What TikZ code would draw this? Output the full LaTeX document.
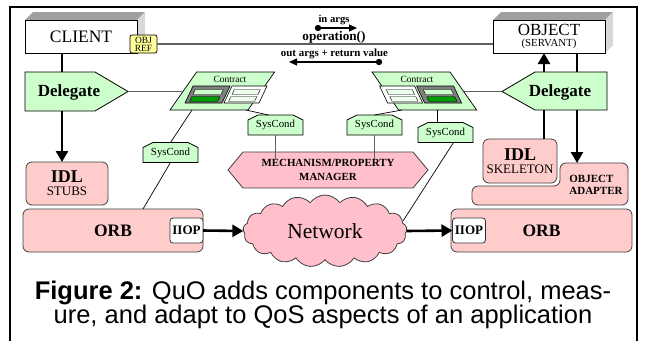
\documentclass[tikz,border=0pt]{standalone}
\usepackage{fontspec}
\setmainfont{Liberation Serif}
\newfontfamily\capfont{Liberation Sans}
\usetikzlibrary{shapes.symbols,arrows.meta,calc}
\definecolor{lgreen}{HTML}{CCFFCC}
\definecolor{vlgreen}{HTML}{EEFFEE}
\definecolor{dgreen}{HTML}{00A000}
\definecolor{lpink}{HTML}{FFCCCC}
\definecolor{mpink}{HTML}{FFC0CB}
\definecolor{lyellow}{HTML}{FFFF99}
\definecolor{topgray}{HTML}{A0A0A0}
\definecolor{sidegray}{HTML}{D8D8D8}
\definecolor{linegray}{HTML}{606060}
\definecolor{framegray}{HTML}{808080}
\newcommand\fs[1]{\fontsize{#1}{#1}\selectfont}
\newcommand\parallelo[6]{\path[#1] ({#2},{#3}) -- ++({(#6)*(#5)},{-(#5)}) -- ++({#4},0) -- ++({-(#6)*(#5)},{#5}) -- cycle;}
\newcommand\contractshape{%
  \parallelo{draw=black,fill=lgreen,line width=0.7pt}{170}{110}{78}{38}{0.7}
  \parallelo{draw=black,fill=framegray,line width=0.6pt}{185}{103}{37}{17}{0.47}
  \parallelo{draw=black,fill=lgreen,line width=0.4pt}{193}{94.5}{28}{5}{0.47}
  \parallelo{draw=black,fill=dgreen,line width=0.4pt}{189.5}{101.5}{28}{5}{0.47}
  \parallelo{draw=black,fill=white,line width=0.6pt}{224}{103}{35}{17}{0.47}
  \parallelo{draw=black,fill=vlgreen,line width=0.4pt}{232}{94.5}{26}{5}{0.47}
  \parallelo{draw=black,fill=vlgreen,line width=0.4pt}{228.5}{101.5}{26}{5}{0.47}}
\newcommand\syscond[3]{%
  \draw[scst] ({#2-27.5},{#3+10}) -- ({#2-27.5},{#3-5}) -- ({#2-17.5},{#3-10}) -- ({#2+17.5},{#3-10}) -- ({#2+27.5},{#3-5}) -- ({#2+27.5},{#3+10}) -- cycle;
  \node[font=\fs{10.8},minimum width=55,minimum height=20] (#1) at (#2,#3) {SysCond};}
\begin{document}
\begin{tikzpicture}[x=1pt,y=-1pt,
  every node/.style={inner sep=0pt,outer sep=0pt},
  thk/.style={line width=2.6pt},
  tipa/.style={-{Triangle[length=11pt,width=12pt]}},
  conn/.style={line width=0.7pt},
  mconn/.style={draw=linegray,line width=1.2pt},
  gline/.style={draw=linegray,line width=1.4pt},
  pinkbox/.style={draw=black!75,fill=lpink,rounded corners=6pt,line width=0.8pt},
  delst/.style={draw=black,fill=lgreen,line width=0.8pt},
  scst/.style={draw=black,fill=lgreen,line width=0.7pt},
  deltext/.style={font=\bfseries\fs{17}},
  iiopst/.style={draw=black!80,fill=white,rounded corners=3pt,minimum width=33,minimum height=25,font=\bfseries\fs{13},line width=0.8pt}
]
\useasboundingbox (0,0) rectangle (645,341);
\fill[white] (0,0) rectangle (645,341);
% frame
\draw[line width=2pt] (10,341) -- (10,7) -- (637,7) -- (637,341);

% CLIENT 3D box
\fill[topgray] (25,20) -- (33,12) -- (145,12) -- (137,20) -- cycle;
\fill[sidegray] (137,20) -- (145,12) -- (145,45) -- (137,53) -- cycle;
\node[draw,fill=white,line width=0.8pt,minimum width=112,minimum height=33,font=\fs{17.5}] (client) at (81,36.5) {CLIENT};

% OBJECT 3D box
\fill[topgray] (493,20) -- (501,12) -- (613,12) -- (605,20) -- cycle;
\fill[sidegray] (605,20) -- (613,12) -- (613,45) -- (605,53) -- cycle;
\node[draw,fill=white,line width=0.8pt,minimum width=112,minimum height=33,align=center] (object) at (549,36.5) {\fs{17}OBJECT\\[-1pt]\fs{10.8}(SERVANT)};

% OBJ REF
\node[draw,fill=lyellow,rounded corners=2pt,minimum width=27,minimum height=18,align=center,font=\fontsize{9.5}{8}\selectfont,line width=0.7pt] (objref) at (143.5,44) {OBJ\\REF};
\draw[gline] (objref.east) -- (object.west |- objref.east);

% operation labels
\node[font=\bfseries\fs{10.6}] (inargs) at (334,20) {in args};
\coordinate (ia1) at (318,28);
\coordinate (ia2) at (357,28);
\fill (ia1) circle (3.2);
\draw[line width=1.2pt,-{Triangle[length=8pt,width=7pt]}] (ia1) -- (ia2);
\node[font=\bfseries\fs{13.2}] (op) at (334,37) {operation()};
\node[font=\bfseries\fs{10.9}] (outargs) at (334.5,53.5) {out args + return value};
\coordinate (oa1) at (379,62);
\coordinate (oa2) at (289,62);
\fill (oa1) circle (3.2);
\draw[line width=1.2pt,-{Triangle[length=8pt,width=7pt]}] (oa1) -- (oa2);

% Delegates
\draw[delst] (25,72) -- (95,72) -- (128,91.5) -- (95,111) -- (25,111) -- cycle;
\node[deltext] (delL) at (69,92) {Delegate};
\coordinate (delLtip) at (128,91.5);
\draw[delst] (607,72) -- (535,72) -- (502,91.5) -- (535,110) -- (607,110) -- cycle;
\node[deltext] (delR) at (560,92) {Delegate};
\coordinate (delRtip) at (502,91.5);

% Contracts
\contractshape
\begin{scope}[shift={(646.6,0)},xscale=-1]
\contractshape
\end{scope}
\node[font=\fs{9.5}] (conLtxt) at (230,79) {Contract};
\node[font=\fs{9.5}] (conRtxt) at (417,79) {Contract};
\coordinate (conLw) at (183,91.5);
\coordinate (conRe) at (463.6,91.5);
\draw[gline] (delLtip) -- (conLw);
\draw[gline] (delRtip) -- (conRe);

% IDL boxes
\node[pinkbox,minimum width=82,minimum height=43,align=center] (stubs) at (67,183.5) {\bfseries\fs{18}IDL\\[1pt]\fs{13}STUBS};
\node[pinkbox,minimum width=74,minimum height=44,align=center] (skel) at (520,161) {\bfseries\fs{18}IDL\\[1pt]\fs{13}SKELETON};
\draw[pinkbox] (560,163) -- (628,163) -- (628,205) -- (472,205) -- (472,186) -- (560,186) -- cycle;
\node[font=\bfseries\fs{11},align=left] (adapter) at (596,185) {OBJECT\\[1pt]ADAPTER};
\coordinate (adtop) at (577,163);

% ORBs
\node[pinkbox,minimum width=180,minimum height=43,font=\bfseries\fs{17.5}] (orbL) at (113,230.5) {ORB};
\node[pinkbox,minimum width=181,minimum height=43,font=\bfseries\fs{17.5}] (orbR) at (541.5,230.5) {ORB};
\node[iiopst] (iiopL) at (186.5,230.5) {IIOP};
\node[iiopst] (iiopR) at (469,230.5) {IIOP};

% thick verticals
\coordinate (delLtop) at (62,72);
\coordinate (delLbot) at (62,111);
\draw[thk] (client.south -| delLtop) -- (delLtop);
\draw[thk,tipa] (delLbot) -- (stubs.north -| delLbot);
\coordinate (delRtopA) at (544,72);
\coordinate (delRtopB) at (577,72);
\coordinate (delRbotA) at (544,110);
\coordinate (delRbotB) at (577,110);
\draw[thk,tipa] (delRtopA) -- (object.south -| delRtopA);
\draw[thk] (object.south -| delRtopB) -- (delRtopB);
\draw[thk] (delRbotA) -- (skel.north -| delRbotA);
\draw[thk,tipa] (delRbotB) -- (adtop);

% Mechanism manager
\draw[draw=black!75,fill=mpink,line width=0.8pt] (228,170) -- (243,152) -- (413,152) -- (428,170) -- (413,188) -- (243,188) -- cycle;
\node[font=\bfseries\fontsize{10.9}{14}\selectfont,align=center] (mech) at (328,170) {MECHANISM/PROPERTY\\MANAGER};

% SysConds
\syscond{sysL}{170.5}{152.5}
\syscond{sysA}{275.5}{125}
\syscond{sysB}{374.5}{125}
\syscond{sysC}{445.5}{132.5}

% Network
\node[cloud,draw=black!75,fill=mpink,cloud puffs=17,cloud puff arc=110,cloud ignores aspect,minimum width=164,minimum height=72,line width=0.8pt,font=\fs{21.5}] (net) at (325,231) {Network};

% connectors
\coordinate (cLa) at (192,110);
\coordinate (cLb) at (246,110);
\coordinate (cRa) at (402,110);
\coordinate (cRb) at (437,110);
\coordinate (orbLa) at (143,209);
\coordinate (netc) at (403,221);
\draw[conn] (cLa) -- (sysL.north);
\draw[conn] (sysL.south) -- (orbLa);
\draw[conn] (cLb) -- ($(sysA.north)+(-7,0)$);
\draw[conn] (cRa) -- (sysB.north);
\draw[conn] (cRb) -- (cRb |- sysC.north);
\draw[conn] ($(sysC.south)+(8,0)$) -- (netc);
\draw[mconn] (sysA.south) -- (sysA.south |- mech.north);
\draw[mconn] (sysB.south) -- (sysB.south |- mech.north);
\draw[thk,tipa] (iiopL.east) -- (net.west);
\draw[thk,tipa] (net.east) -- (iiopR.west);

% caption
\node[font=\capfont\fontsize{25.5}{24}\selectfont,align=center] (cap) at (323,305) {\textbf{Figure 2:} QuO adds components to control, meas-\\ure, and adapt to QoS aspects of an application};
\end{tikzpicture}
\end{document}
